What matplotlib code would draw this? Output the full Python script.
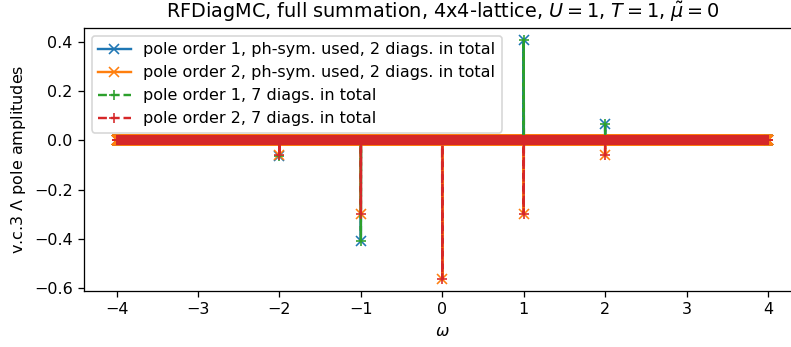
import numpy as np
import matplotlib
matplotlib.use("Agg")
import matplotlib.pyplot as plt

# frequency grid of the spectrum (dense), from -4 to 4
omega = np.linspace(-4, 4, 4001)

# pole positions (integer frequencies) and amplitudes
pole_positions = [-2, -1, 0, 1, 2]
order1_ph = [-0.065, -0.41, 0.0, 0.41, 0.065]
order2_ph = [-0.06, -0.30, -0.565, -0.30, -0.06]
order1_7 = [-0.065, -0.41, 0.0, 0.41, 0.065]
order2_7 = [-0.06, -0.30, -0.565, -0.30, -0.06]

labels = [
    "pole order 1, ph-sym. used, 2 diags. in total",
    "pole order 2, ph-sym. used, 2 diags. in total",
    "pole order 1, 7 diags. in total",
    "pole order 2, 7 diags. in total",
]


def series(amps):
    y = np.zeros_like(omega)
    for p, a in zip(pole_positions, amps):
        idx = np.argmin(np.abs(omega - p))
        y[idx] = a
    return y


DPI = 115.5
fig = plt.figure(figsize=(791 / DPI, 347 / DPI), dpi=DPI)
ax = fig.add_axes([0.1062, 0.161, 1.0121 - 0.1062, 0.920 - 0.161])

ax.plot(omega, series(order1_ph), "-x", color="C0", label=labels[0])
ax.plot(omega, series(order2_ph), "-x", color="C1", label=labels[1])
ax.plot(omega, series(order1_7), "--+", color="C2", label=labels[2])
ax.plot(omega, series(order2_7), "--+", color="C3", label=labels[3])

ax.set_xticks([-4, -3, -2, -1, 0, 1, 2, 3, 4])
ax.set_yticks([-0.6, -0.4, -0.2, 0.0, 0.2, 0.4])
ax.set_xlabel(r"$\omega$")
ax.set_ylabel(r"v.c.3 $\Lambda$ pole amplitudes")
ax.set_title(r"RFDiagMC, full summation, 4x4-lattice, $U=1$, $T=1$, $\tilde{\mu}=0$")
ax.legend(loc="upper left")

fig.savefig("out.png", dpi=DPI)
